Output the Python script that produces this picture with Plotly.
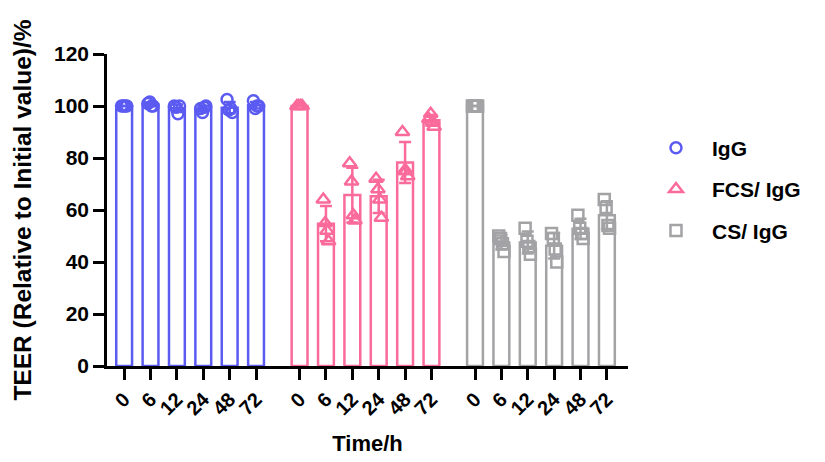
import numpy as np
import plotly.graph_objects as go

time_labels = ["0", "6", "12", "24", "48", "72"]
groups = ["IgG", "FCS/ IgG", "CS/ IgG"]

igg_points = [
    [100, 100, 100, 100],
    [101, 101.5, 100, 100],
    [100, 99.5, 97, 100],
    [99, 97.5, 99.5, 100],
    [102.5, 98.5, 99, 97.5],
    [102, 99, 100, 100],
]
fcs_points = [
    [100, 100, 100, 100],
    [64, 55, 52, 48],
    [78, 71, 58, 56],
    [72, 68, 64, 57],
    [90, 75, 75, 73],
    [95, 97, 94, 92],
]
cs_points = [
    [100, 100, 100, 100],
    [50, 49, 47, 44],
    [53, 48, 46, 43],
    [51, 49, 45, 40],
    [58, 53, 51, 49],
    [64, 61, 54, 53],
]

colors = ["#5B5BF2", "#FA6A9B", "#A3A3A6"]
symbols = ["circle-open", "triangle-up-open", "square-open"]
group_offsets = [0, 6.65, 13.3]
jitter = [-0.1, -0.03, 0.04, 0.1]

FONT = "Arial, Liberation Sans, sans-serif"

fig = go.Figure()
tickvals, ticktext = [], []
all_points = [igg_points, fcs_points, cs_points]
for gi, (name, pts) in enumerate(zip(groups, all_points)):
    xs = [group_offsets[gi] + i for i in range(len(time_labels))]
    tickvals += xs
    ticktext += time_labels
    arr = np.array(pts, dtype=float)
    means = arr.mean(axis=1)
    sds = arr.std(axis=1, ddof=1)
    fig.add_trace(go.Bar(
        x=xs, y=means, width=0.6,
        marker=dict(color="white", line=dict(color=colors[gi], width=2.5)),
        error_y=dict(type="data", array=sds, visible=True, color=colors[gi],
                     thickness=2.5, width=6),
        showlegend=False, legendgroup=name,
    ))
    px, py = [], []
    for i, row in enumerate(pts):
        for j, v in enumerate(row):
            px.append(xs[i] + jitter[j])
            py.append(v)
    fig.add_trace(go.Scatter(
        x=px, y=py, mode="markers", name=name, legendgroup=name,
        marker=dict(symbol=symbols[gi], size=11 if gi != 1 else 12,
                    color=colors[gi], line=dict(width=2.5, color=colors[gi])),
    ))

fig.update_layout(
    width=825, height=462,
    margin=dict(l=99, r=205, t=46, b=104),
    plot_bgcolor="white", paper_bgcolor="white",
    barmode="overlay",
    font=dict(family=FONT, color="black"),
    legend=dict(x=1.023, y=0.764, xanchor="left", yanchor="top",
                font=dict(family=FONT, size=21, color="black", weight="bold"),
                tracegroupgap=11, itemwidth=62),
    xaxis=dict(
        range=[-0.65, 19.1], tickmode="array", tickvals=tickvals, ticktext=ticktext,
        tickangle=-45, ticks="outside", ticklen=11, tickwidth=2.5, tickcolor="black",
        showline=True, linecolor="black", linewidth=2.5, showgrid=False, zeroline=False,
        automargin=False,
        tickfont=dict(family=FONT, size=20, color="black", weight="bold"),
        title=dict(text="Time/h", font=dict(family=FONT, size=22, color="black", weight="bold"),
                   standoff=18),
    ),
    yaxis=dict(
        range=[0, 120], tickmode="array", tickvals=[0, 20, 40, 60, 80, 100, 120],
        ticks="outside", ticklen=11, tickwidth=2.5, tickcolor="black",
        showline=True, linecolor="black", linewidth=2.5, showgrid=False, zeroline=False,
        automargin=False,
        tickfont=dict(family=FONT, size=21, color="black", weight="bold"),
        title=dict(text="TEER (Relative to Initial value)/%",
                   font=dict(family=FONT, size=24.5, color="black", weight="bold"), standoff=16),
    ),
)

fig.write_html("out.html")
